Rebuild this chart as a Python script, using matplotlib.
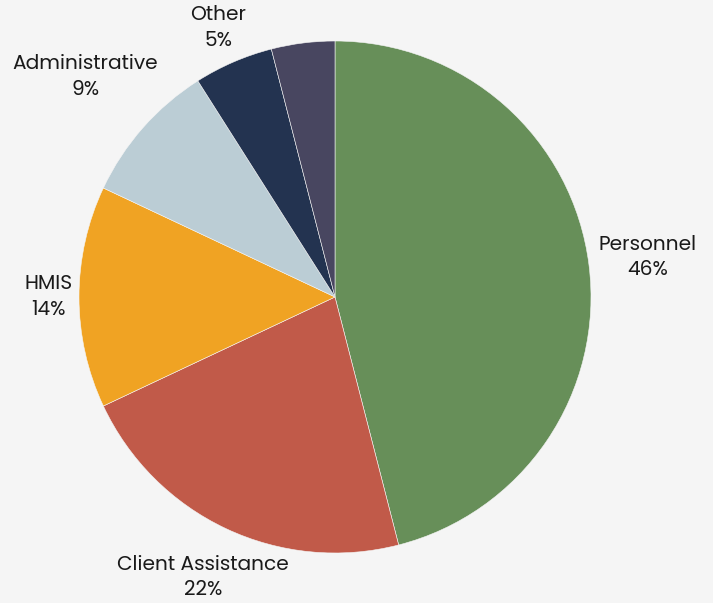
import numpy as np
import matplotlib
matplotlib.use("Agg")
import matplotlib.pyplot as plt

categories = ["Personnel", "Client Assistance", "HMIS", "Administrative", "Other", ""]
values = [46, 22, 14, 9, 5, 4]
labels = ["Personnel\n46%", "Client Assistance\n22%", "HMIS\n14%",
          "Administrative\n9%", "Other\n5%", ""]
colors = ["#678f59", "#c15a49", "#f0a323", "#bbcdd5", "#233350", "#484660"]

plt.rcParams["font.family"] = ["Poppins", "Lato", "DejaVu Sans"]

W, H = 713, 603
fig = plt.figure(figsize=(W / 100, H / 100), dpi=100, facecolor="#f5f5f5")
cx, cy, r = 335, 297, 256
ax = fig.add_axes([(cx - r) / W, (H - cy - r) / H, 2 * r / W, 2 * r / H])
ax.set_facecolor("#f5f5f5")

wedges, _ = ax.pie(values, colors=colors, startangle=90, counterclock=False,
                   radius=1.0, wedgeprops=dict(linewidth=0.4, edgecolor="#f5f5f5"))

# label distances tuned per slice to sit like the original
dists = [1.23, 1.21, 1.12, 1.30, 1.145, 1.0]
for w, lab, d in zip(wedges, labels, dists):
    if not lab:
        continue
    ang = np.deg2rad((w.theta1 + w.theta2) / 2)
    ax.text(d * np.cos(ang), d * np.sin(ang), lab, ha="center", va="center",
            fontsize=14.5, color="#1a1a1a", linespacing=1.35)

ax.set_xlim(-1, 1)
ax.set_ylim(-1, 1)
ax.set_aspect("equal")
ax.axis("off")

fig.savefig("out.png", dpi=100, facecolor=fig.get_facecolor())
